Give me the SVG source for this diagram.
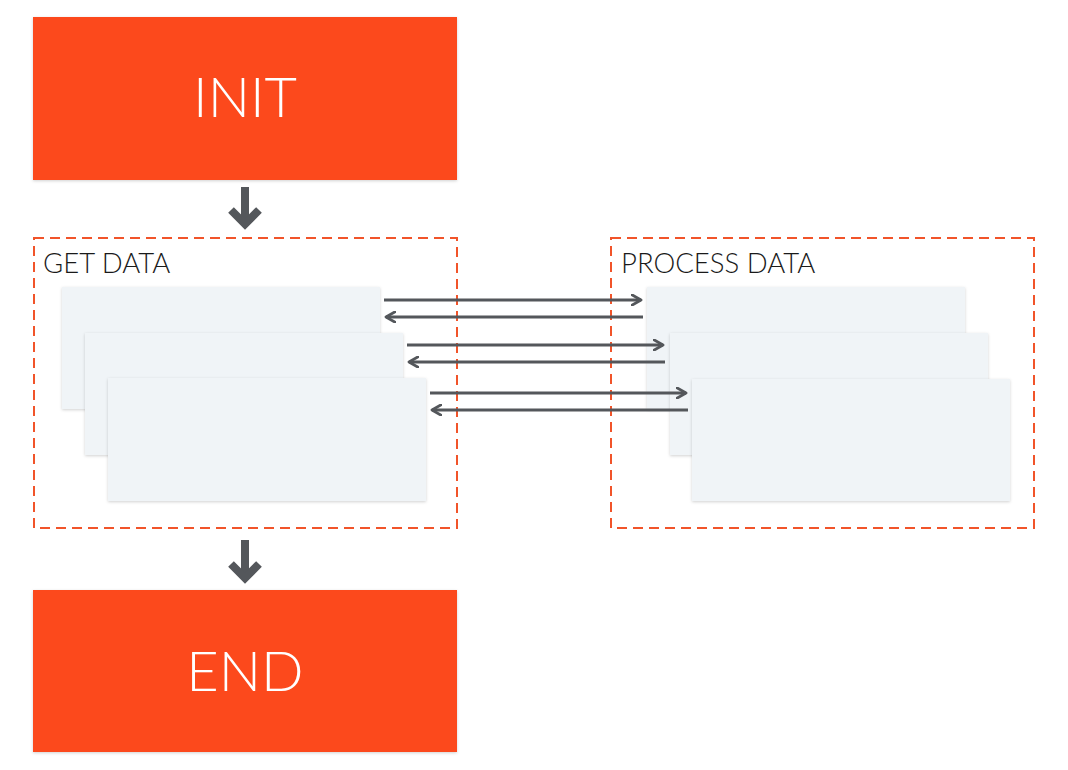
<svg xmlns="http://www.w3.org/2000/svg" width="1068" height="770" viewBox="0 0 1068 770">
<defs>
<filter id="sh" x="-5%" y="-5%" width="110%" height="115%">
<feDropShadow dx="0" dy="1" stdDeviation="1.5" flood-color="#000" flood-opacity="0.18"/>
</filter>
<marker id="ah" viewBox="0 0 10 10" refX="8" refY="5" markerWidth="4.3" markerHeight="4.3" orient="auto-start-reverse" markerUnits="strokeWidth">
<path d="M1,1 L8,5 L1,9" fill="none" stroke="#54575b" stroke-width="2.2" stroke-linecap="round" stroke-linejoin="round"/>
</marker>
</defs>
<style>
.term{fill:#fc4a1a;filter:url(#sh)}
.termt{font-family:Lato,"Liberation Sans",sans-serif;font-weight:300;font-size:56px;fill:#fff;text-anchor:middle}
.grp{fill:none;stroke:#f1542a;stroke-width:2;stroke-dasharray:10 6}
.lbl{font-family:Lato,"Liberation Sans",sans-serif;font-weight:300;font-size:27.5px;fill:#1a1a1a}
.card{fill:#f0f4f7;filter:url(#sh)}
.link{stroke:#54575b;stroke-width:3;fill:none}
.big{stroke:#54575b;stroke-width:8;fill:none}
</style>
<rect width="1068" height="770" fill="#fff"/>
<g id="init"><rect class="term" x="33" y="17" width="424" height="163"/><text class="termt" x="245" y="117">INIT</text></g>
<g id="end"><rect class="term" x="33" y="590" width="424" height="162"/><text class="termt" x="245" y="691">END</text></g>
<g id="get-data">
<rect class="grp" x="34" y="238" width="423" height="290"/>
<text class="lbl" x="43" y="273">GET DATA</text>
<rect class="card" x="62" y="287" width="318" height="122"/>
<rect class="card" x="85" y="333" width="318" height="122"/>
<rect class="card" x="108" y="378" width="318" height="123"/>
</g>
<g id="process-data">
<rect class="grp" x="611" y="238" width="423" height="290"/>
<text class="lbl" x="621" y="273">PROCESS DATA</text>
<rect class="card" x="647" y="287" width="318" height="122"/>
<rect class="card" x="670" y="333" width="318" height="122"/>
<rect class="card" x="692" y="379" width="318" height="122"/>
</g>
<g id="connectors">
<line class="big" x1="245" y1="187" x2="245" y2="222"/>
<path class="big" d="M231,210 L245,224 L259,210" stroke-linejoin="miter"/>
<line class="big" x1="245" y1="540" x2="245" y2="576"/>
<path class="big" d="M231,564 L245,578 L259,564" stroke-linejoin="miter"/>
<line class="link" x1="384" y1="300" x2="641" y2="300" marker-end="url(#ah)"/>
<line class="link" x1="643" y1="317" x2="386" y2="317" marker-end="url(#ah)"/>
<line class="link" x1="407" y1="345" x2="663" y2="345" marker-end="url(#ah)"/>
<line class="link" x1="665" y1="362" x2="409" y2="362" marker-end="url(#ah)"/>
<line class="link" x1="430" y1="393" x2="686" y2="393" marker-end="url(#ah)"/>
<line class="link" x1="688" y1="410" x2="432" y2="410" marker-end="url(#ah)"/>
</g>
</svg>
